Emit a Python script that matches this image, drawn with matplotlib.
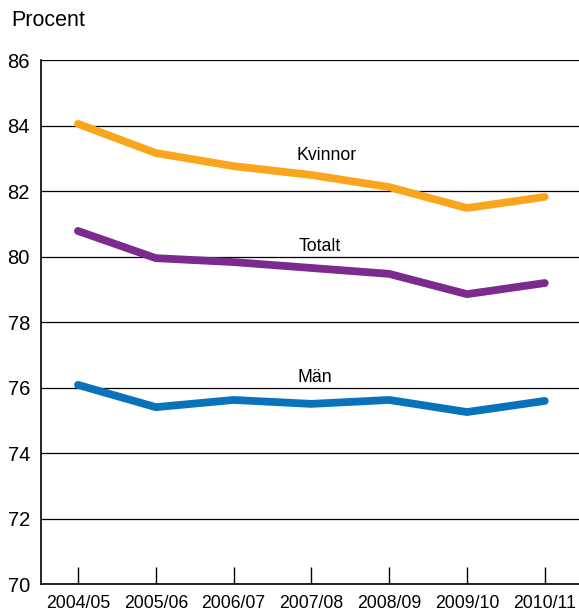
import matplotlib.pyplot as plt

plt.rcParams['font.family'] = ['Liberation Sans', 'DejaVu Sans']

# Data
ar = ['2004/05', '2005/06', '2006/07', '2007/08', '2008/09', '2009/10', '2010/11']
kvinnor = [84.05, 83.16, 82.76, 82.49, 82.12, 81.48, 81.82]
totalt = [80.78, 79.95, 79.83, 79.65, 79.47, 78.85, 79.19]
man = [76.08, 75.40, 75.62, 75.50, 75.62, 75.25, 75.59]

x = list(range(len(ar)))

fig = plt.figure(figsize=(5.79, 6.13), dpi=100)
ax = fig.add_axes([0.0708, 0.0473, 0.9292, 0.8548])

ax.plot(x, kvinnor, color='#F9A51E', lw=5.6, solid_capstyle='round', solid_joinstyle='round', zorder=3)
ax.plot(x, totalt, color='#7D2A8E', lw=5.6, solid_capstyle='round', solid_joinstyle='round', zorder=3)
ax.plot(x, man, color='#0873BA', lw=5.6, solid_capstyle='round', solid_joinstyle='round', zorder=3)

ax.text(3.2, 83.07, 'Kvinnor', fontsize=12.8, ha='center', va='center')
ax.text(3.11, 80.32, 'Totalt', fontsize=12.8, ha='center', va='center')
ax.text(3.05, 76.32, 'Män', fontsize=12.8, ha='center', va='center')

ax.set_ylim(70, 86)
ax.set_xlim(-0.475, 6.44)
ax.set_yticks(range(70, 87, 2))
ax.set_xticks(x)
ax.set_xticklabels(ar)
ax.yaxis.grid(True, color='black', lw=0.9)
ax.set_axisbelow(True)

for s in ['top', 'right']:
    ax.spines[s].set_visible(False)
ax.spines['left'].set_linewidth(1.2)
ax.spines['bottom'].set_linewidth(1.2)

ax.tick_params(axis='x', direction='in', length=12, width=1, pad=8, labelsize=12.7)
ax.tick_params(axis='y', length=0, pad=8, labelsize=14.5)

fig.text(0.019, 0.967, 'Procent', fontsize=15.5, ha='left', va='center')

fig.savefig('out.png', dpi=100)
